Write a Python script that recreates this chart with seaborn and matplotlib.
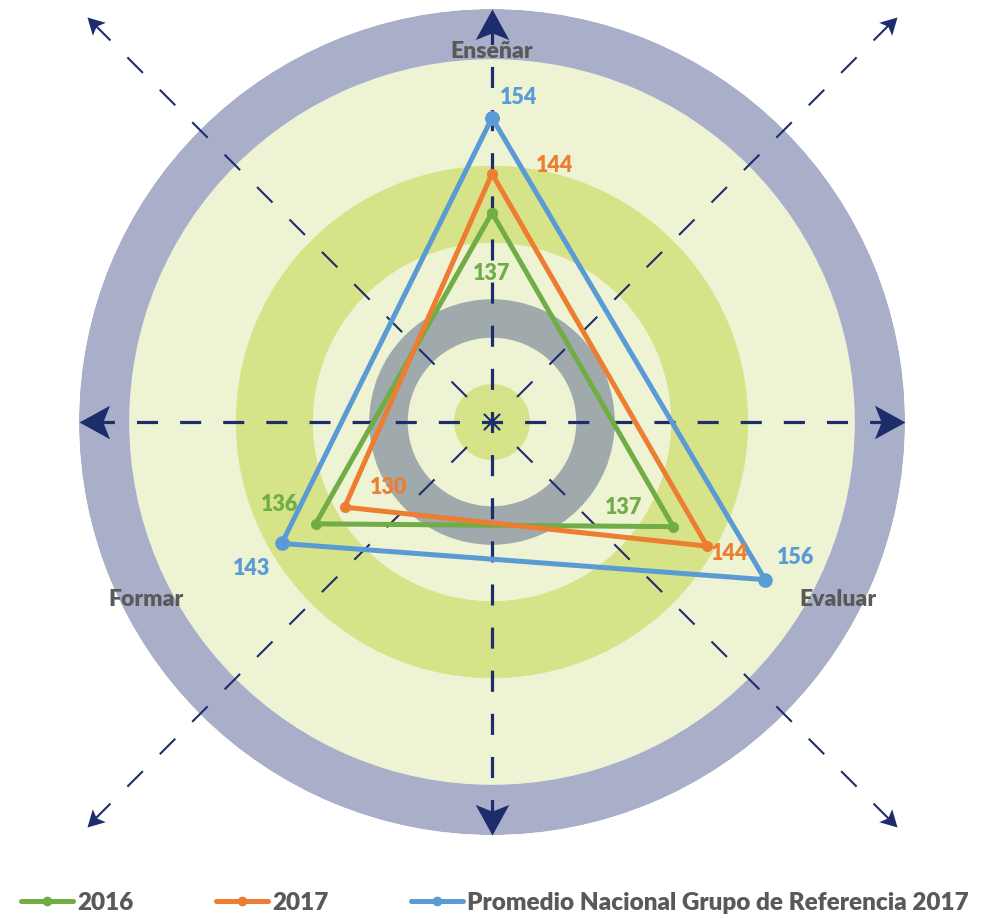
import numpy as np
import pandas as pd
import matplotlib
matplotlib.use("Agg")
import matplotlib.pyplot as plt
from matplotlib.markers import MarkerStyle
from matplotlib.path import Path
from matplotlib.transforms import Affine2D
from matplotlib.lines import Line2D
import seaborn as sns

# ---- data -------------------------------------------------------------
dimensiones = ["Enseñar", "Formar", "Evaluar"]
angulos_grados = [90, 210, 330]
puntaje_2016 = [137, 136, 137]
puntaje_2017 = [144, 130, 144]
promedio_ref_2017 = [154, 143, 156]
series = ["2016", "2017", "Promedio Nacional Grupo de Referencia 2017"]

# radial scale and decorative band edges (same units as the scores)
r_min, r_max = 99.5, 173.5
bandas = [  # (inner, outer, colour)
    (r_min, 164.5, "#EEF3D4"),
    (164.5, r_max, "#A9AFC9"),
    (131.6, 145.4, "#D7E388"),
    (114.6, 121.5, "#A0A9AC"),
    (r_min, 106.3, "#D7E388"),
]

# ---- style ------------------------------------------------------------
sns.set_theme(style="white")
plt.rcParams["font.family"] = ["Lato", "DejaVu Sans"]
plt.rcParams["font.weight"] = "bold"

navy = "#1D2D6C"
gris_txt = "#595959"
colores = {"2016": "#70AD47", "2017": "#ED7D31",
           "Promedio Nacional Grupo de Referencia 2017": "#5B9BD5"}
tam_marcador = {"2016": 8, "2017": 8,
                "Promedio Nacional Grupo de Referencia 2017": 10.5}

fig = plt.figure(figsize=(10, 9.19), dpi=100)
ax = fig.add_axes([0.079, 0.0914, 0.826, 0.8988], projection="polar")
ax.set_ylim(r_min, r_max)
ax.set_xticks([])
ax.set_yticks([])
ax.grid(False)
ax.spines["polar"].set_visible(False)
ax.set_facecolor("none")

# concentric background bands
for lo, hi, col in bandas:
    ax.bar(0, hi - lo, width=2 * np.pi, bottom=lo, color=col,
           linewidth=0, zorder=1)


def flecha(ang_deg):
    verts = [(0, 0), (-1, 0.55), (-0.78, 0), (-1, -0.55), (0, 0)]
    codes = [Path.MOVETO, Path.LINETO, Path.LINETO, Path.LINETO, Path.CLOSEPOLY]
    return MarkerStyle(Path(verts, codes),
                       transform=Affine2D().rotate_deg(ang_deg))


# main dashed axes with arrowheads on the outer edge
for a in [0, 90, 180, 270]:
    t = np.deg2rad(a)
    ax.plot([t, t], [r_min, r_max - 3], color=navy, lw=2.3,
            linestyle=(3.3, (6.6, 6.9)), solid_capstyle="butt",
            dash_capstyle="butt", zorder=3)
    ax.plot([t], [r_max], marker=flecha(a), markersize=44, color=navy,
            markeredgewidth=0, linestyle="none", zorder=4, clip_on=False)

# diagonal dashed guides that run past the circle
r_diag = 202
for a in [45, 135, 225, 315]:
    t = np.deg2rad(a)
    ax.plot([t, t], [r_min, r_diag - 2], color=navy, lw=1.5,
            linestyle=(5, (10.5, 11.5)), dash_capstyle="butt",
            zorder=3, clip_on=False)
    ax.plot([t], [r_diag], marker=flecha(a), markersize=24, color=navy,
            markeredgewidth=0, linestyle="none", zorder=4, clip_on=False)

# score triangles
valores = {series[0]: puntaje_2016, series[1]: puntaje_2017,
           series[2]: promedio_ref_2017}
for s in series:
    th = np.deg2rad(angulos_grados + [angulos_grados[0] + 360])
    df = pd.DataFrame({"theta": th, "valor": valores[s] + [valores[s][0]]})
    sns.lineplot(data=df, x="theta", y="valor", ax=ax, sort=False,
                 estimator=None, color=colores[s], linewidth=3.6,
                 marker="o", markersize=tam_marcador[s],
                 markeredgewidth=0, zorder=5, legend=False)

# value labels, offsets in points
desplaz = {
    "2016": [(0, -44), (-26, 14), (-36, 14)],
    "2017": [(45, 6), (32, 14), (16, -5)],
    "Promedio Nacional Grupo de Referencia 2017": [(19, 15), (-22, -18), (22, 16)],
}
for s in series:
    for a, v, off in zip(angulos_grados, valores[s], desplaz[s]):
        ax.annotate(str(v), xy=(np.deg2rad(a), v), xytext=off,
                    textcoords="offset points", ha="center", va="center",
                    fontsize=15.5, fontweight="heavy", color=colores[s],
                    zorder=6)
ax.set_xlabel("")
ax.set_ylabel("")

# dimension names
pos_etiquetas = [(90, 165.8), (207.2, 169.2), (332.8, 169.2)]
for nombre, (a, r) in zip(dimensiones, pos_etiquetas):
    ax.text(np.deg2rad(a), r, nombre, ha="center", va="center",
            fontsize=16.5, fontweight="heavy", color=gris_txt, zorder=6)

# legend
manejadores = [Line2D([0], [0], color=colores[s], lw=3.6, marker="o",
                      markersize=7, markeredgewidth=0) for s in series]
fig.legend(manejadores, series, loc="center left",
           bbox_to_anchor=(0.021, 1 - 903 / 919), ncol=3, frameon=False,
           handlelength=2.15, handletextpad=0.16, columnspacing=3.4,
           borderpad=0, borderaxespad=0,
           prop={"size": 17.5, "weight": "heavy"}, labelcolor=gris_txt)

fig.savefig("out.png", dpi=100, facecolor="white")
